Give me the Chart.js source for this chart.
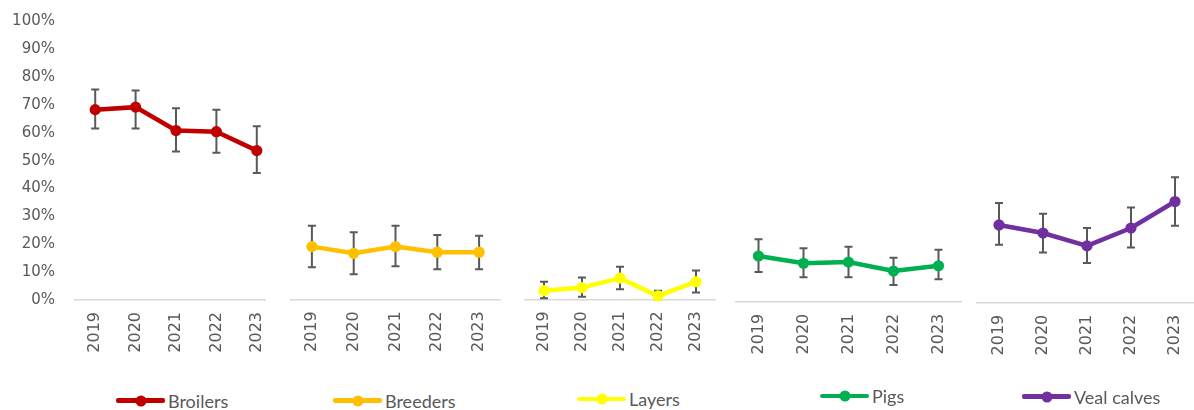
<!DOCTYPE html>
<html>
<head>
<meta charset="utf-8">
<script src="https://cdn.jsdelivr.net/npm/chart.js@4/dist/chart.umd.min.js"></script>
<style>
  html, body { margin: 0; padding: 0; background: #ffffff; }
  body { position: relative; width: 1194px; height: 410px; overflow: hidden; }
  .panel { position: absolute; top: 0; overflow: hidden; }
  .panel canvas { display: block; }
  .legend-item { position: absolute; display: flex; align-items: center; height: 20px;
    font-family: Lato, "Open Sans", sans-serif; font-size: 18px; color: #595959; white-space: nowrap; }
  .legend-key { position: relative; width: 49px; height: 4.5px; margin-right: 3px; border-radius: 2px; }
  .legend-key i { position: absolute; left: 50%; top: 50%; width: 11px; height: 11px;
    border-radius: 50%; transform: translate(-50%, -50%); }
</style>
</head>
<body>
<script>
// Survey years shared by every group
const years = ['2019', '2020', '2021', '2022', '2023'];

// Y axis ticks (percent)
const yTicks = [0, 10, 20, 30, 40, 50, 60, 70, 80, 90, 100];

// Group names
const groups = ['Broilers', 'Breeders', 'Layers', 'Pigs', 'Veal calves'];

// Estimated share per year (%) with the lower / upper ends of the error bars
const broilers     = [68.3, 69.2, 60.8, 60.4, 53.6];
const broilersLow  = [61.5, 61.5, 53.3, 52.8, 45.6];
const broilersHigh = [75.5, 75.2, 68.8, 68.3, 62.3];

const breeders     = [18.9, 16.5, 18.9, 16.9, 16.9];
const breedersLow  = [11.5,  9.0, 11.9, 10.8, 10.8];
const breedersHigh = [26.4, 24.1, 26.4, 23.1, 22.8];

const layers     = [3.1, 4.2,  7.6, 1.2,  6.3];
const layersLow  = [0.4, 0.9,  3.6, 0.0,  2.4];
const layersHigh = [6.3, 7.8, 11.7, 3.1, 10.3];

const pigs     = [16.4, 13.8, 14.2, 11.0, 12.9];
const pigsLow  = [10.7,  8.8,  8.8,  6.0,  8.1];
const pigsHigh = [22.4, 19.2, 19.7, 15.8, 18.6];

const veal     = [27.9, 25.0, 20.4, 26.8, 36.3];
const vealLow  = [20.8, 18.0, 14.2, 19.8, 27.6];
const vealHigh = [35.8, 31.9, 26.8, 34.2, 45.0];

// Colours per group
const colors = ['#C00000', '#FFC000', '#FFFF00', '#00B050', '#7030A0'];

// Panel layout: plot-area edges, axis line height, optional clip, legend anchor
const PLOT_H = 278.7;
const CANVAS_H = 380;
const panels = [
  { areaL: 75,  areaR: 277,  base: 300.0, clipR: 266, showY: true, legX: 116,  legY: 400.7 },
  { areaL: 291, areaR: 500,  base: 299.3, legX: 333,  legY: 400.7 },
  { areaL: 525, areaR: 715,  base: 299.3, legX: 577,  legY: 399.0 },
  { areaL: 736, areaR: 961,  base: 301.7, legX: 820,  legY: 396.0 },
  { areaL: 977, areaR: 1197, base: 302.7, legX: 1022, legY: 396.7 }
];

const series = [
  { values: broilers, low: broilersLow, high: broilersHigh },
  { values: breeders, low: breedersLow, high: breedersHigh },
  { values: layers,   low: layersLow,   high: layersHigh },
  { values: pigs,     low: pigsLow,     high: pigsHigh },
  { values: veal,     low: vealLow,     high: vealHigh }
];

// Draws vertical error bars with caps behind the line and markers
const errorBars = {
  id: 'errorBars',
  beforeDatasetsDraw(chart) {
    const { ctx, scales: { y } } = chart;
    chart.data.datasets.forEach((ds, di) => {
      const meta = chart.getDatasetMeta(di);
      ctx.save();
      ctx.strokeStyle = '#595959';
      ctx.lineWidth = 2;
      meta.data.forEach((pt, i) => {
        const px = pt.x;
        const top = y.getPixelForValue(ds.errHigh[i]);
        const bot = y.getPixelForValue(ds.errLow[i]);
        ctx.beginPath();
        ctx.moveTo(px, top); ctx.lineTo(px, bot);
        ctx.moveTo(px - 4, top); ctx.lineTo(px + 4, top);
        ctx.moveTo(px - 4, bot); ctx.lineTo(px + 4, bot);
        ctx.stroke();
      });
      ctx.restore();
    });
  }
};

Chart.defaults.font.family = '"DejaVu Sans", sans-serif';
Chart.defaults.font.size = 15;
Chart.defaults.color = '#595959';

panels.forEach((p, k) => {
  const side = 12;
  const canvasL = p.showY ? 0 : p.areaL - side;
  const padL = p.showY ? 0 : side;
  const canvasW = p.areaR - canvasL + side;

  const wrap = document.createElement('div');
  wrap.className = 'panel';
  wrap.style.left = canvasL + 'px';
  wrap.style.width = ((p.clipR || (canvasL + canvasW)) - canvasL) + 'px';
  wrap.style.height = CANVAS_H + 'px';
  const cv = document.createElement('canvas');
  cv.width = canvasW;
  cv.height = CANVAS_H;
  cv.style.width = canvasW + 'px';
  cv.style.height = CANVAS_H + 'px';
  wrap.appendChild(cv);
  document.body.appendChild(wrap);

  const s = series[k];
  new Chart(cv, {
    type: 'line',
    data: {
      labels: years,
      datasets: [{
        label: groups[k],
        data: s.values,
        errLow: s.low,
        errHigh: s.high,
        borderColor: colors[k],
        backgroundColor: colors[k],
        borderWidth: 4.5,
        pointRadius: 5.6,
        pointHoverRadius: 5.6,
        pointBorderWidth: 0,
        pointBackgroundColor: colors[k],
        tension: 0,
        clip: false
      }]
    },
    options: {
      responsive: false,
      animation: false,
      events: [],
      layout: { padding: { left: padL, right: side, top: p.base - PLOT_H, bottom: 0 } },
      plugins: { legend: { display: false }, tooltip: { enabled: false } },
      scales: {
        x: {
          type: 'category',
          offset: true,
          grid: { display: false, drawTicks: false },
          border: { display: true, color: '#d9d9d9', width: 1.5 },
          ticks: {
            minRotation: 90, maxRotation: 90, padding: 12, autoSkip: false,
            color: '#595959', font: { family: '"DejaVu Sans", sans-serif', size: 16 }
          },
          afterFit(scale) {
            scale.height = CANVAS_H - p.base;
            scale.paddingLeft = 0; scale.paddingRight = 0;
            scale.paddingTop = 0; scale.paddingBottom = 0;
          }
        },
        y: {
          display: !!p.showY,
          min: 0, max: 100,
          grid: { display: false, drawTicks: false },
          border: { display: false },
          afterBuildTicks(scale) { scale.ticks = yTicks.map(v => ({ value: v })); },
          ticks: {
            padding: 20,
            color: '#595959',
            font: { family: '"DejaVu Sans", sans-serif', size: 15 },
            callback: v => v + '%'
          },
          afterFit(scale) {
            scale.width = p.showY ? 75 : 0;
            scale.paddingLeft = 0; scale.paddingRight = 0;
            scale.paddingTop = 0; scale.paddingBottom = 0;
          }
        }
      }
    },
    plugins: [errorBars]
  });

  // Legend entry for this group
  const item = document.createElement('div');
  item.className = 'legend-item';
  item.style.left = p.legX + 'px';
  item.style.top = (p.legY - 10) + 'px';
  const key = document.createElement('span');
  key.className = 'legend-key';
  key.style.background = colors[k];
  const dot = document.createElement('i');
  dot.style.background = colors[k];
  key.appendChild(dot);
  const txt = document.createElement('span');
  txt.textContent = groups[k];
  item.appendChild(key);
  item.appendChild(txt);
  document.body.appendChild(item);
});
</script>
</body>
</html>
